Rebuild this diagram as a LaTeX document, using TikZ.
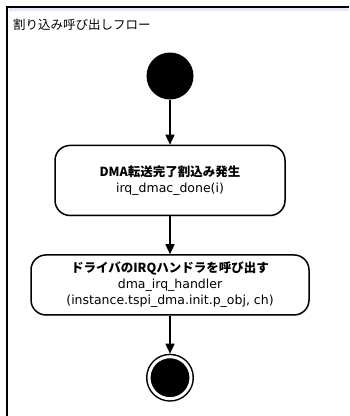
\documentclass[tikz,border=0pt]{standalone}
\usepackage{fontspec}
\setmainfont{DejaVu Sans}
\newfontfamily\cjk{Noto Sans CJK JP}
\usetikzlibrary{arrows.meta, positioning, shadows}
\tikzstyle{txt} = [font=\fontsize{12.5}{16}\selectfont]
\tikzstyle{action} = [draw, line width=1.5pt, rectangle, rounded corners=15pt, fill=white, align=center, txt,
    drop shadow={fill=blue!25, opacity=0.35, shadow xshift=1pt, shadow yshift=-1.5pt}]
\tikzstyle{initial} = [circle, fill=black, minimum size=47pt, inner sep=0pt]
\tikzstyle{final} = [circle, draw, fill=black, double=white, double distance=3pt, line width=1.5pt, minimum size=42pt, inner sep=0pt, outer sep=3pt]
\tikzstyle{flow} = [-{Triangle[width=9pt, length=10pt]}, line width=1.5pt]
\tikzstyle{frame} = [line width=2pt]

\begin{document}
\begin{tikzpicture}[x=1pt, y=1pt, node distance=38pt]
    \useasboundingbox (0,0) rectangle (349,-416);

    % Frame and title.
    \draw [frame, blue!10, line width=3pt] (9,-9.5) -- (349,-9.5);
    \draw [frame] (7,-416) -- (7,-7) -- (349,-7);
    \node (title) [txt, anchor=base west, inner sep=0pt] at (13,-29) {\cjk 割り込み呼び出しフロー};

    % States.
    \node (start) [initial] at (170,-76) {};
    \node (done) [action, minimum width=230pt, minimum height=70pt, below=45pt of start]
        {{\cjk\bfseries DMA転送完了割込み発生}\\irq\_dmac\_done(i)};
    \node (handler) [action, minimum width=278pt, minimum height=60pt, below=of done]
        {{\cjk\bfseries ドライバのIRQハンドラを呼び出す}\\dma\_irq\_handler\\(instance.tspi\_dma.init.p\_obj, ch)};
    \node (end) [final, below=of handler] {};

    % Arrows.
    \draw [flow] (start) -- (done);
    \draw [flow] (done) -- (handler);
    \draw [flow] (handler) -- (end);
\end{tikzpicture}
\end{document}
